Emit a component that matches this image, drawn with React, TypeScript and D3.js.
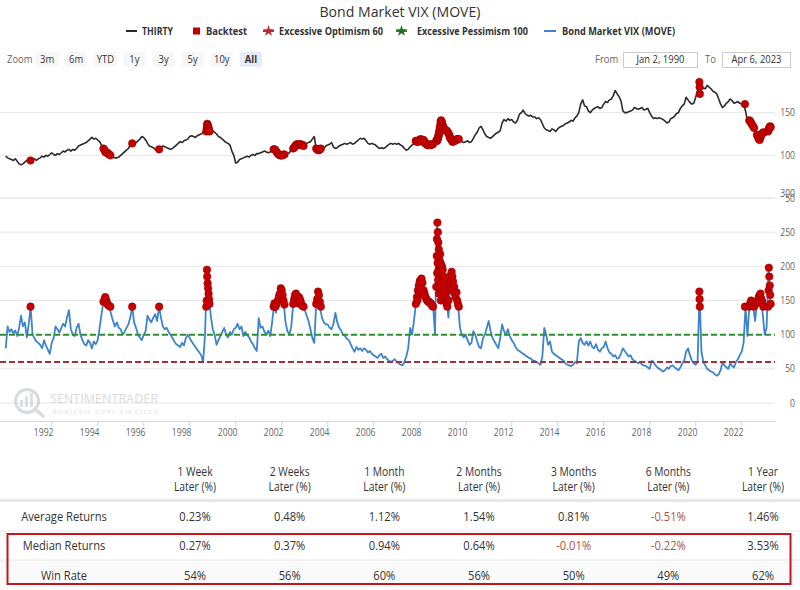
import * as d3 from "d3";
import type { ReactNode } from "react";

const FONT = "'Open Sans', 'Noto Sans', sans-serif";

const TITLE = "Bond Market VIX (MOVE)";
const LEGEND_LABELS = ["THIRTY", "Backtest", "Excessive Optimism 60", "Excessive Pessimism 100", "Bond Market VIX (MOVE)"];
const ZOOM_BUTTONS = ["3m", "6m", "YTD", "1y", "3y", "5y", "10y", "All"];
const FROM_DATE = "Jan 2, 1990";
const TO_DATE = "Apr 6, 2023";

// monthly samples, first one is Jan 1990
const SERIES_START = 1990;
const thirty = [
  99, 97, 96, 95, 94, 96, 93, 90, 89, 90, 92, 94,
  95, 94, 95, 96, 94, 96, 97, 99, 98, 100, 99, 101,
  103, 101, 100, 102, 101, 103, 105, 104, 106, 107, 105, 107,
  106, 108, 111, 112, 113, 114, 115, 117, 119, 121, 119, 120,
  118, 116, 112, 108, 104, 103, 101, 100, 98, 97, 97, 98,
  100, 102, 104, 106, 108, 112, 114, 113, 115, 117, 119, 122,
  121, 118, 114, 111, 110, 109, 107, 106, 107, 109, 111, 110,
  109, 108, 107, 108, 110, 112, 114, 116, 115, 117, 118, 119,
  122, 123, 122, 121, 123, 124, 125, 127, 128, 137, 132, 131,
  129, 127, 125, 122, 121, 119, 117, 115, 114, 112, 105, 100,
  91, 92, 95, 96, 97, 98, 99, 98, 100, 101, 100, 102,
  102, 103, 104, 105, 104, 103, 104, 106, 107, 105, 102, 100,
  100, 101, 100, 102, 103, 106, 108, 111, 113, 112, 113, 112,
  112, 114, 115, 116, 119, 122, 108, 106, 109, 110, 108, 111,
  112, 113, 115, 110, 108, 109, 111, 112, 113, 114, 113, 114,
  115, 113, 114, 116, 118, 120, 119, 120, 117, 114, 113, 114,
  113, 112, 110, 108, 109, 108, 109, 111, 113, 114, 113, 114,
  113, 114, 112, 111, 108, 106, 107, 110, 112, 114, 117, 116,
  118, 116, 118, 114, 112, 113, 112, 113, 115, 117, 125, 141,
  134, 130, 129, 126, 120, 116, 117, 118, 119, 118, 116, 115,
  116, 117, 115, 116, 120, 124, 127, 132, 134, 130, 125, 122,
  121, 120, 122, 124, 126, 127, 129, 138, 142, 140, 143, 141,
  142, 139, 138, 141, 148, 150, 153, 149, 147, 146, 147, 145,
  145, 143, 144, 142, 137, 132, 130, 129, 128, 131, 130, 128,
  131, 133, 134, 135, 137, 138, 139, 141, 140, 144, 146, 150,
  160, 165, 158, 157, 152, 150, 153, 155, 156, 157, 155, 156,
  160, 163, 162, 165, 166, 170, 176, 172, 169, 164, 152, 150,
  150, 151, 152, 153, 156, 155, 154, 155, 156, 153, 154, 155,
  150, 146, 143, 144, 143, 144, 143, 142, 140, 138, 139, 143,
  144, 146, 149, 150, 155, 158, 160, 168, 165, 162, 160, 161,
  168, 176, 186, 180, 179, 178, 182, 180, 178, 175, 174, 172,
  166, 160, 156, 158, 161, 163, 166, 164, 161, 162, 163, 161,
  160, 160, 152, 141, 140, 135, 132, 130, 124, 118, 124, 127,
  128, 124, 131, 133,
];

const move = [
  80, 112, 104, 108, 102, 106, 98, 110, 128, 112, 118, 96,
  115, 141, 100, 95, 90, 88, 85, 80, 92, 84, 78, 72,
  88, 95, 112, 108, 103, 110, 116, 112, 125, 136, 108, 100,
  98, 110, 116, 100, 92, 86, 84, 92, 88, 80, 90, 86,
  92, 110, 130, 148, 155, 145, 142, 130, 120, 112, 118, 110,
  108, 100, 104, 110, 115, 125, 141, 118, 110, 100, 96, 92,
  100, 105, 128, 122, 118, 125, 130, 120, 141, 125, 112, 108,
  110, 104, 100, 95, 90, 86, 84, 82, 88, 84, 95, 100,
  95, 90, 86, 82, 78, 74, 70, 60, 100, 195, 160, 128,
  108, 100, 85, 92, 98, 104, 110, 100, 96, 104, 100, 108,
  110, 116, 108, 112, 98, 104, 100, 96, 90, 86, 80, 76,
  124, 110, 112, 104, 100, 106, 98, 118, 143, 132, 150, 160,
  168, 148, 118, 105, 100, 112, 145, 158, 150, 155, 148, 142,
  136, 128, 120, 108, 95, 88, 145, 163, 140, 125, 118, 115,
  115, 110, 108, 116, 132, 118, 110, 106, 100, 98, 94, 92,
  86, 80, 75, 82, 78, 80, 76, 80, 78, 74, 76, 72,
  70, 68, 66, 70, 72, 66, 68, 64, 62, 60, 62, 64,
  60, 58, 56, 55, 60, 68, 80, 110, 100, 120, 145, 165,
  178, 182, 165, 155, 150, 148, 145, 141, 101, 264, 230, 205,
  200, 175, 150, 125, 175, 192, 170, 160, 145, 110, 100, 96,
  100, 92, 85, 88, 105, 100, 90, 82, 80, 95, 100, 110,
  120, 105, 95, 90, 85, 80, 95, 115, 105, 100, 108, 98,
  92, 88, 82, 78, 76, 74, 72, 70, 68, 66, 65, 62,
  62, 60, 58, 56, 68, 110, 100, 85, 90, 75, 72, 70,
  68, 66, 64, 62, 58, 56, 55, 54, 56, 60, 58, 90,
  95, 88, 85, 90, 84, 90, 82, 80, 86, 78, 75, 80,
  82, 90, 80, 74, 72, 68, 70, 65, 66, 72, 80, 76,
  72, 68, 70, 64, 62, 60, 58, 60, 56, 55, 54, 52,
  50, 62, 60, 55, 52, 50, 48, 46, 48, 52, 50, 54,
  55, 52, 50, 48, 52, 58, 62, 75, 80, 70, 62, 58,
  56, 60, 163, 75, 60, 55, 50, 48, 46, 45, 42, 40,
  42, 48, 60, 55, 52, 50, 58, 54, 52, 60, 64, 70,
  75, 88, 141, 98, 141, 150, 140, 120, 148, 155, 150, 130,
  100, 110, 198, 140,
];

// backtest signals: [year, THIRTY, MOVE]
const backtest: [number, number, number][] = [
  [1991.08, 94, 141],
  [1994.25, 108, 148], [1994.3, 106, 152], [1994.33, 104, 155], [1994.38, 103, 150],
  [1994.42, 103, 145], [1994.46, 102, 143], [1994.5, 101, 142], [1994.55, 100, 141],
  [1995.5, 114, 141],
  [1996.67, 107, 141],
  [1998.72, 128, 141], [1998.74, 131, 150], [1998.75, 134, 195], [1998.76, 137, 185],
  [1998.78, 136, 175], [1998.8, 134, 168], [1998.82, 132, 160], [1998.84, 130, 152], [1998.86, 128, 145],
  [2001.65, 107, 141], [2001.69, 107, 146], [2001.73, 106, 141], [2001.78, 104, 145],
  [2001.83, 102, 150], [2001.88, 101, 156], [2001.92, 100, 160], [2001.96, 100, 168],
  [2002.0, 100, 165], [2002.04, 100, 158], [2002.08, 101, 150], [2002.12, 101, 144],
  [2002.5, 108, 145], [2002.54, 109, 152], [2002.58, 111, 158], [2002.62, 112, 160],
  [2002.66, 113, 150], [2002.7, 113, 146], [2002.75, 112, 155], [2002.79, 113, 152],
  [2002.83, 113, 148], [2002.87, 112, 143], [2002.92, 112, 142], [2002.95, 111, 141],
  [2003.5, 108, 145], [2003.54, 107, 152], [2003.58, 106, 163], [2003.62, 106, 158],
  [2003.66, 107, 148], [2003.7, 108, 141],
  [2007.83, 117, 145], [2007.88, 116, 155], [2007.92, 116, 165], [2007.96, 117, 172],
  [2008.0, 118, 178], [2008.04, 119, 180], [2008.08, 116, 182], [2008.12, 117, 176],
  [2008.17, 118, 165], [2008.21, 116, 160], [2008.25, 114, 155], [2008.29, 113, 152],
  [2008.33, 112, 150], [2008.37, 112, 148], [2008.42, 113, 148], [2008.46, 112, 146],
  [2008.5, 112, 145], [2008.54, 113, 142], [2008.58, 113, 141],
  [2007.9, 116, 150], [2007.98, 118, 160], [2008.06, 117, 168], [2008.14, 118, 158],
  [2008.72, 117, 170], [2008.74, 117, 215], [2008.75, 118, 240], [2008.76, 117, 190],
  [2008.77, 119, 264], [2008.78, 119, 205], [2008.79, 120, 250], [2008.8, 121, 180],
  [2008.81, 122, 235], [2008.82, 123, 195], [2008.83, 125, 225], [2008.84, 126, 160],
  [2008.85, 128, 210], [2008.87, 131, 200], [2008.88, 133, 170], [2008.89, 135, 218],
  [2008.91, 139, 205], [2008.92, 140, 150], [2008.93, 141, 195], [2008.95, 140, 185],
  [2008.97, 138, 200], [2008.99, 136, 160], [2009.0, 134, 195], [2009.02, 133, 178],
  [2009.05, 132, 185], [2009.08, 130, 170], [2009.11, 130, 160], [2009.14, 129, 152],
  [2009.17, 129, 145], [2009.2, 128, 141], [2009.25, 126, 150], [2009.28, 124, 165],
  [2009.31, 122, 175], [2009.33, 120, 180], [2009.36, 119, 188], [2009.39, 118, 192],
  [2009.42, 116, 185], [2009.45, 116, 178], [2009.48, 117, 168], [2009.5, 117, 170],
  [2009.53, 117, 160], [2009.56, 118, 155], [2009.6, 118, 162], [2009.63, 119, 150],
  [2009.66, 119, 145], [2009.7, 119, 141],
  [2020.16, 186, 163], [2020.17, 180, 152], [2020.18, 172, 141],
  [2022.14, 160, 141],
  [2022.33, 141, 141], [2022.37, 140, 146], [2022.41, 138, 150], [2022.45, 136, 148],
  [2022.5, 134, 142], [2022.54, 132, 141], [2022.66, 124, 146], [2022.7, 122, 150],
  [2022.74, 119, 155], [2022.78, 118, 158], [2022.82, 121, 160], [2022.86, 124, 152],
  [2022.9, 126, 148], [2022.94, 127, 141],
  [2023.15, 128, 141], [2023.17, 130, 165], [2023.18, 131, 198], [2023.2, 132, 185],
  [2023.22, 133, 172], [2023.24, 134, 158], [2023.26, 133, 145],
];

const OPTIMISM_LEVEL = 60;
const PESSIMISM_LEVEL = 100;

const upperTicks = [50, 100, 150];
const lowerTicks = [0, 50, 100, 150, 200, 250, 300];
const yearTicks = [1992, 1994, 1996, 1998, 2000, 2002, 2004, 2006, 2008, 2010, 2012, 2014, 2016, 2018, 2020, 2022];

// forward returns table
const periods = ["1 Week", "2 Weeks", "1 Month", "2 Months", "3 Months", "6 Months", "1 Year"];
const periodSuffix = "Later (%)";
const rowLabels = ["Average Returns", "Median Returns", "Win Rate"];
const averageReturns = [0.23, 0.48, 1.12, 1.54, 0.81, -0.51, 1.46];
const medianReturns = [0.27, 0.37, 0.94, 0.64, -0.01, -0.22, 3.53];
const winRate = [54, 56, 60, 56, 50, 49, 62];

const COLORS = {
  text: "#333333",
  muted: "#666666",
  grid: "#e6e6e6",
  thirty: "#2b2b2b",
  move: "#3d84c8",
  dot: "#c40000",
  dotEdge: "#9a0000",
  optimism: "#a0313f",
  pessimism: "#2f8f2f",
  negative: "#b0504c",
  box: "#c4161c",
};

const PLOT_RIGHT = 775;
const AXIS_Y = 421.5;
const SQUEEZE = 0.86; // the fonts here are set narrow

// horizontally condensed text anchored at (x, y)
function NarrowText(props: {
  x: number;
  y: number;
  size: number;
  anchor?: "start" | "middle" | "end";
  weight?: number;
  fill?: string;
  sx?: number;
  children: ReactNode;
}) {
  const { x, y, size, anchor = "start", weight = 400, fill = COLORS.text, sx = SQUEEZE, children } = props;
  return (
    <text
      transform={`translate(${x},${y}) scale(${sx},1)`}
      textAnchor={anchor}
      fontSize={size}
      fontWeight={weight}
      fill={fill}
    >
      {children}
    </text>
  );
}

export default function App() {
  const x = d3.scaleLinear().domain([1990, 2023.27]).range([5.7, 770.9]);
  const yUp = d3.scaleLinear().domain([50, 200]).range([198, 70]);
  const yLow = d3.scaleLinear().domain([0, 300]).range([403, 198]);

  const thirtyPts = thirty.map((v, i) => [SERIES_START + i / 12, v] as [number, number]);
  const movePts = move.map((v, i) => [SERIES_START + i / 12, v] as [number, number]);

  const upLine = d3.line<[number, number]>().x((d) => x(d[0])).y((d) => yUp(d[1]));
  const lowLine = d3.line<[number, number]>().x((d) => x(d[0])).y((d) => yLow(d[1]));

  const colX = d3.scalePoint<string>().domain(periods).range([195, 763]);
  const rowY = d3.scalePoint<string>().domain(rowLabels).range([516, 575]);
  const rowValues = [
    averageReturns.map((v) => ({ text: `${v.toFixed(2)}%`, neg: v < 0 })),
    medianReturns.map((v) => ({ text: `${v.toFixed(2)}%`, neg: v < 0 })),
    winRate.map((v) => ({ text: `${v}%`, neg: false })),
  ];

  const zoomBand = d3.scaleBand<string>().domain(ZOOM_BUTTONS).range([36, 262]).paddingInner(0.24);

  const star = d3.symbol().type(d3.symbolStar).size(40)() ?? "";
  const legendSym = [126, 193, 263, 396, 544];
  const legendTxt = [142, 206, 279, 417, 562];
  const legendWidth = [31, 41, 104, 111, 113];

  return (
    <svg
      width={800}
      height={590}
      viewBox="0 0 800 590"
      style={{ position: "absolute", left: 0, top: 0, background: "#fff", fontFamily: FONT }}
    >
      <rect width={800} height={590} fill="#fff" />

      {/* title + legend */}
      <text x={400} y={17} textAnchor="middle" fontSize={15} fill={COLORS.text} textLength={161} lengthAdjust="spacingAndGlyphs">
        {TITLE}
      </text>
      <g fontSize={10.5} fontWeight={700} fill={COLORS.text}>
        {LEGEND_LABELS.map((label, i) => (
          <text key={label} x={legendTxt[i]} y={35} textLength={legendWidth[i]} lengthAdjust="spacingAndGlyphs">
            {label}
          </text>
        ))}
      </g>
      <line x1={legendSym[0]} x2={legendSym[0] + 11} y1={31} y2={31} stroke={COLORS.thirty} strokeWidth={2} />
      <rect x={legendSym[1]} y={27.5} width={7} height={7} fill={COLORS.dot} />
      <line x1={legendSym[2]} x2={legendSym[2] + 11} y1={31} y2={31} stroke={COLORS.optimism} strokeWidth={2} />
      <path d={star} transform={`translate(${legendSym[2] + 5.5},31)`} fill="#c0262e" />
      <line x1={legendSym[3]} x2={legendSym[3] + 11} y1={31} y2={31} stroke={COLORS.pessimism} strokeWidth={2} />
      <path d={star} transform={`translate(${legendSym[3] + 5.5},31)`} fill="#1f6f1f" />
      <line x1={legendSym[4]} x2={legendSym[4] + 12} y1={31} y2={31} stroke={COLORS.move} strokeWidth={2} />

      {/* range selector */}
      <NarrowText x={7} y={63} size={11} fill={COLORS.muted}>
        Zoom
      </NarrowText>
      {ZOOM_BUTTONS.map((b) => {
        const bx = zoomBand(b) ?? 0;
        const active = b === "All";
        return (
          <g key={b}>
            <rect x={bx} y={52} width={zoomBand.bandwidth()} height={15} rx={2} fill={active ? "#e6ebf5" : "#f7f7f7"} />
            <NarrowText x={bx + zoomBand.bandwidth() / 2} y={63} size={11} anchor="middle" weight={active ? 700 : 400}>
              {b}
            </NarrowText>
          </g>
        );
      })}
      <NarrowText x={595} y={63} size={11} fill={COLORS.muted}>
        From
      </NarrowText>
      <rect x={623.5} y={52.5} width={74} height={15} fill="#fff" stroke="#cccccc" />
      <NarrowText x={660.5} y={63} size={11} anchor="middle">
        {FROM_DATE}
      </NarrowText>
      <NarrowText x={705} y={63} size={11} fill={COLORS.muted}>
        To
      </NarrowText>
      <rect x={722.5} y={52.5} width={68} height={15} fill="#fff" stroke="#cccccc" />
      <NarrowText x={756.5} y={63} size={11} anchor="middle">
        {TO_DATE}
      </NarrowText>

      {/* upper pane: THIRTY */}
      {upperTicks.map((t) => (
        <g key={`u${t}`}>
          <line x1={0} x2={PLOT_RIGHT} y1={yUp(t)} y2={yUp(t)} stroke={COLORS.grid} />
          <NarrowText x={795} y={yUp(t) + 3.5} size={10} anchor="end" fill={COLORS.muted}>
            {t}
          </NarrowText>
        </g>
      ))}
      <path d={upLine(thirtyPts) ?? ""} fill="none" stroke={COLORS.thirty} strokeWidth={1.6} strokeLinejoin="round" />
      {backtest.map((d, i) => (
        <circle key={`ub${i}`} cx={x(d[0])} cy={yUp(d[1])} r={3.8} fill={COLORS.dot} stroke={COLORS.dotEdge} strokeWidth={0.5} />
      ))}

      {/* lower pane: MOVE */}
      {lowerTicks.map((t) => (
        <g key={`l${t}`}>
          <line x1={0} x2={PLOT_RIGHT} y1={yLow(t)} y2={yLow(t)} stroke={COLORS.grid} />
          <NarrowText x={795} y={yLow(t) + (t === 300 ? -1 : 3.5)} size={10} anchor="end" fill={COLORS.muted}>
            {t}
          </NarrowText>
        </g>
      ))}

      {/* watermark */}
      <g opacity={0.6}>
        <circle cx={27} cy={401} r={11.5} fill="none" stroke="#bfc6cc" strokeWidth={3} />
        <rect x={20} y={400} width={3} height={7} fill="#c8ced4" />
        <rect x={25} y={396} width={3} height={11} fill="#c8ced4" />
        <rect x={30} y={393} width={3} height={14} fill="#c8ced4" />
        <line x1={35} y1={409} x2={43} y2={416} stroke="#bfc6cc" strokeWidth={3.5} strokeLinecap="round" />
        <text x={50} y={403} fontSize={12} fill="#c4c4c4" textLength={108} lengthAdjust="spacingAndGlyphs">
          SENTIMENTRADER
        </text>
        <text x={52} y={414} fontSize={7.5} fill="#cfcfcf" textLength={106} lengthAdjust="spacing">
          Analysis over Emotion
        </text>
      </g>

      <path d={lowLine(movePts) ?? ""} fill="none" stroke={COLORS.move} strokeWidth={1.8} strokeLinejoin="round" />
      <line x1={0} x2={PLOT_RIGHT} y1={yLow(PESSIMISM_LEVEL)} y2={yLow(PESSIMISM_LEVEL)} stroke={COLORS.pessimism} strokeWidth={2} strokeDasharray="6,3" />
      <line x1={0} x2={PLOT_RIGHT} y1={yLow(OPTIMISM_LEVEL)} y2={yLow(OPTIMISM_LEVEL)} stroke={COLORS.optimism} strokeWidth={2} strokeDasharray="6,3" />
      {backtest.map((d, i) => (
        <circle key={`lb${i}`} cx={x(d[0])} cy={yLow(d[2])} r={3.8} fill={COLORS.dot} stroke={COLORS.dotEdge} strokeWidth={0.5} />
      ))}

      {/* x axis */}
      <line x1={0} x2={PLOT_RIGHT} y1={AXIS_Y} y2={AXIS_Y} stroke="#ccd6eb" />
      {yearTicks.map((yr) => (
        <g key={yr}>
          <line x1={x(yr)} x2={x(yr)} y1={AXIS_Y} y2={AXIS_Y + 5} stroke="#ccd6eb" />
          <NarrowText x={x(yr) - 8} y={436} size={10} anchor="middle" fill={COLORS.muted}>
            {yr}
          </NarrowText>
        </g>
      ))}

      {/* returns table */}
      {periods.map((p) => (
        <g key={p}>
          <NarrowText x={colX(p) ?? 0} y={476} size={12} anchor="middle">
            {p}
          </NarrowText>
          <NarrowText x={colX(p) ?? 0} y={491} size={12} anchor="middle">
            {periodSuffix}
          </NarrowText>
        </g>
      ))}
      <rect x={0} y={499} width={800} height={3} fill="#e8e8e8" />
      <rect x={0} y={560} width={800} height={24} fill="#fafafa" />
      <line x1={0} x2={800} y1={531} y2={531} stroke="#e6e6e6" />
      <line x1={0} x2={800} y1={560} y2={560} stroke="#e6e6e6" />
      {rowLabels.map((r, ri) => (
        <g key={r}>
          <NarrowText x={64} y={(rowY(r) ?? 0) + 4.5} size={13} anchor="middle">
            {r}
          </NarrowText>
          {periods.map((p, ci) => (
            <NarrowText
              key={p}
              x={colX(p) ?? 0}
              y={(rowY(r) ?? 0) + 4.5}
              size={13}
              anchor="middle"
              fill={rowValues[ri][ci].neg ? COLORS.negative : COLORS.text}
            >
              {rowValues[ri][ci].text}
            </NarrowText>
          ))}
        </g>
      ))}
      <rect x={7.5} y={534} width={783} height={50} fill="none" stroke={COLORS.box} strokeWidth={2} />
    </svg>
  );
}
